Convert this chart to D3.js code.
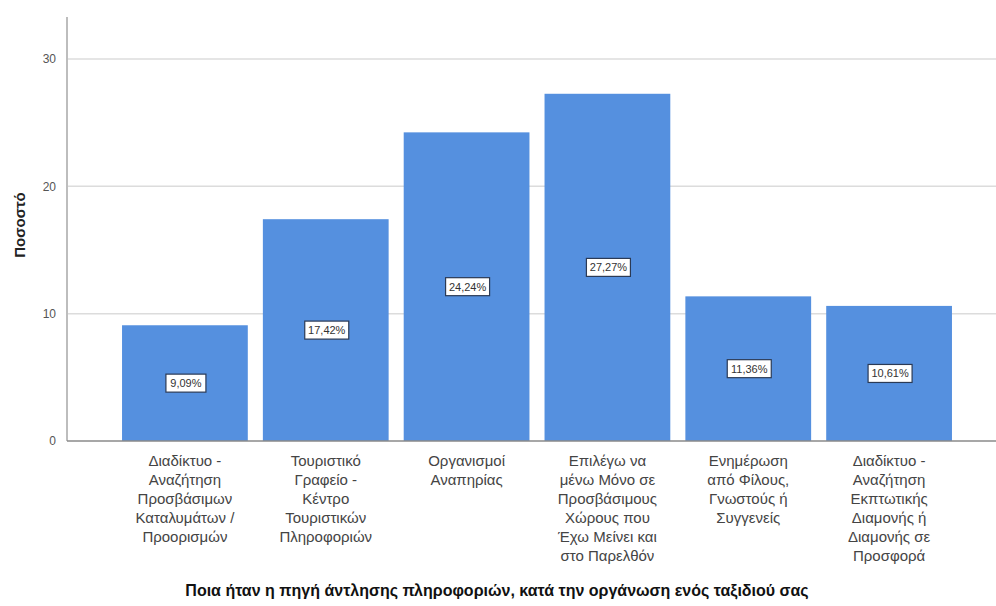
<!DOCTYPE html>
<meta charset="utf-8">
<style>
  body { margin: 0; background: #fff; }
  text { font-family: "Liberation Sans", Arial, sans-serif; }
</style>
<script src="https://d3js.org/d3.v7.min.js"></script>
<div id="chart"></div>
<script>
// data
var categories = [
  ["Διαδίκτυο -", "Αναζήτηση", "Προσβάσιμων", "Καταλυμάτων /", "Προορισμών"],
  ["Τουριστικό", "Γραφείο -", "Κέντρο", "Τουριστικών", "Πληροφοριών"],
  ["Οργανισμοί", "Αναπηρίας"],
  ["Επιλέγω να", "μένω Μόνο σε", "Προσβάσιμους", "Χώρους που", "Έχω Μείνει και", "στο Παρελθόν"],
  ["Ενημέρωση", "από Φίλους,", "Γνωστούς ή", "Συγγενείς"],
  ["Διαδίκτυο -", "Αναζήτηση", "Εκπτωτικής", "Διαμονής ή", "Διαμονής σε", "Προσφορά"]
];
var values = [9.09, 17.42, 24.24, 27.27, 11.36, 10.61];
var labels = ["9,09%", "17,42%", "24,24%", "27,27%", "11,36%", "10,61%"];
var yTicks = [0, 10, 20, 30];
var yTitle = "Ποσοστό";
var xTitle = "Ποια ήταν η πηγή άντλησης πληροφοριών, κατά την οργάνωση ενός ταξιδιού σας";

var W = 996, H = 606;
var svg = d3.select("#chart").append("svg")
  .attr("width", W).attr("height", H);

var x = d3.scaleBand()
  .domain(d3.range(values.length))
  .range([114.5, 959.5])
  .paddingInner(0.107)
  .paddingOuter(0.0535);

var y = d3.scaleLinear()
  .domain([0, 33.3])
  .range([441, 17]);

// grid lines
svg.append("g").selectAll("line")
  .data(yTicks.filter(function(d) { return d > 0; }))
  .enter().append("line")
    .attr("x1", 67).attr("x2", W)
    .attr("y1", function(d) { return y(d); })
    .attr("y2", function(d) { return y(d); })
    .attr("stroke", "#dcdcdc")
    .attr("stroke-width", 1.5);

// y axis
var yAxis = svg.append("g")
  .attr("transform", "translate(67,0)")
  .call(d3.axisLeft(y).tickValues(yTicks).tickSize(0).tickPadding(11));
yAxis.select(".domain").remove();
yAxis.selectAll("text")
  .attr("fill", "#555")
  .style("font-size", "12px");

svg.append("line")
  .attr("x1", 67).attr("x2", 67)
  .attr("y1", 17).attr("y2", y(0))
  .attr("stroke", "#bdbdbd").attr("stroke-width", 2);

// bars
svg.append("g").selectAll("rect")
  .data(values)
  .enter().append("rect")
    .attr("x", function(d, i) { return x(i); })
    .attr("y", function(d) { return y(d); })
    .attr("width", x.bandwidth())
    .attr("height", function(d) { return y(0) - y(d); })
    .attr("fill", "#5590df");

// baseline
svg.append("line")
  .attr("x1", 67).attr("x2", W)
  .attr("y1", y(0)).attr("y2", y(0))
  .attr("stroke", "#8a8a8a").attr("stroke-width", 1.5);

// value labels in boxes
var lab = svg.append("g").selectAll("g")
  .data(values)
  .enter().append("g")
    .attr("transform", function(d, i) {
      return "translate(" + (x(i) + x.bandwidth() / 2 + 1) + "," + y(d / 2) + ")";
    });
lab.append("rect")
  .attr("x", function(d, i) { return labels[i].length > 5 ? -22 : -20; })
  .attr("y", -9)
  .attr("width", function(d, i) { return labels[i].length > 5 ? 44 : 40; })
  .attr("height", 18)
  .attr("fill", "#fff")
  .attr("stroke", "#2b3a55")
  .attr("stroke-width", 1.2);
lab.append("text")
  .attr("text-anchor", "middle")
  .attr("dy", "0.35em")
  .attr("fill", "#333")
  .style("font-size", "11px")
  .text(function(d, i) { return labels[i]; });

// category labels
var cat = svg.append("g").selectAll("text")
  .data(categories)
  .enter().append("text")
    .attr("text-anchor", "middle")
    .attr("fill", "#444")
    .style("font-size", "15px")
    .attr("transform", function(d, i) {
      return "translate(" + (x(i) + x.bandwidth() / 2) + ",466)";
    });
cat.selectAll("tspan")
  .data(function(d) { return d; })
  .enter().append("tspan")
    .attr("x", 0)
    .attr("y", function(d, j) { return j * 19; })
    .text(function(d) { return d; });

// axis titles
svg.append("text")
  .attr("transform", "translate(25,225) rotate(-90)")
  .attr("text-anchor", "middle")
  .attr("fill", "#222")
  .style("font-size", "15px")
  .style("font-weight", "bold")
  .text(yTitle);

svg.append("text")
  .attr("x", 497).attr("y", 596)
  .attr("text-anchor", "middle")
  .attr("fill", "#111")
  .style("font-size", "16px")
  .style("font-weight", "bold")
  .text(xTitle);
</script>
